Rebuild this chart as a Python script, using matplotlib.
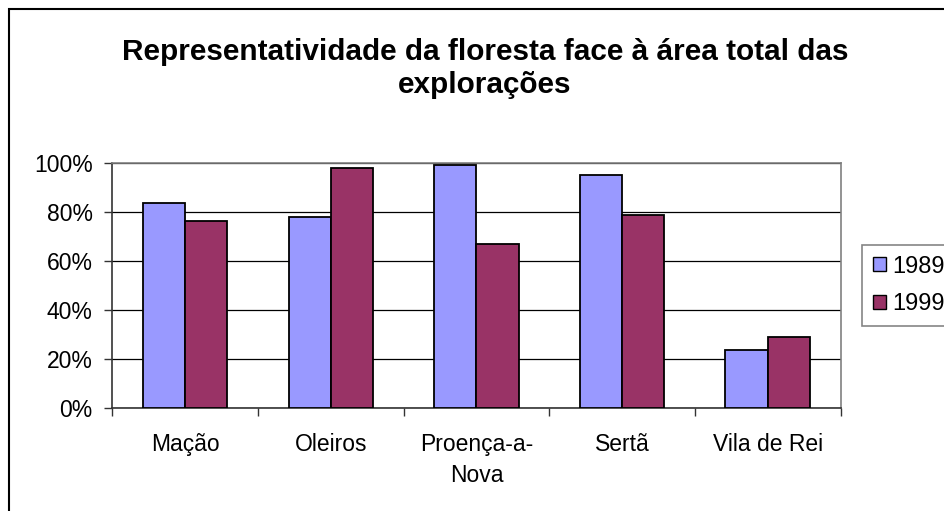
import matplotlib
matplotlib.use("Agg")
import matplotlib.pyplot as plt
import numpy as np
from matplotlib.patches import Rectangle
from matplotlib.ticker import PercentFormatter, FixedLocator

plt.rcParams["font.family"] = ["Liberation Sans", "DejaVu Sans"]

categories = ["Mação", "Oleiros", "Proença-a-\nNova", "Sertã", "Vila de Rei"]
values_1989 = [0.837, 0.781, 0.994, 0.951, 0.237]
values_1999 = [0.766, 0.982, 0.672, 0.788, 0.291]
series_labels = ["1989", "1999"]
colors = ["#9999FF", "#993366"]

fig = plt.figure(figsize=(9.44, 5.11), dpi=100)
ax = fig.add_axes([112.3 / 944, 1 - 408.3 / 511, 728.2 / 944, 245 / 511])

x = np.arange(len(categories))
w = 0.29
ax.bar(x - w / 2, values_1989, width=w, color=colors[0], edgecolor="black",
       linewidth=1.3, label=series_labels[0], zorder=3)
ax.bar(x + w / 2, values_1999, width=w, color=colors[1], edgecolor="black",
       linewidth=1.3, label=series_labels[1], zorder=3)

ax.set_xlim(-0.5, len(categories) - 0.5)
ax.set_ylim(0, 1)
ax.set_yticks(np.arange(0, 1.01, 0.2))
ax.yaxis.set_major_formatter(PercentFormatter(1.0, decimals=0))
ax.yaxis.grid(True, color="black", linewidth=0.9)

ax.set_xticks(x)
ax.set_xticklabels(categories, fontsize=16.5, linespacing=1.4)
ax.tick_params(axis="x", which="major", length=0, pad=18)
ax.xaxis.set_minor_locator(FixedLocator(np.arange(-0.5, len(categories), 1.0)))
ax.tick_params(axis="x", which="minor", length=6, width=1, color="#333333")
ax.tick_params(axis="y", length=6, width=1, color="#333333", labelsize=16.5, pad=8)

for side in ["top", "right"]:
    ax.spines[side].set_color("#808080")
    ax.spines[side].set_linewidth(1.2)
for side in ["left", "bottom"]:
    ax.spines[side].set_color("#333333")
    ax.spines[side].set_linewidth(1.2)

fig.text(485 / 944, 1 - 93 / 511,
         "Representatividade da floresta face à área total das\nexplorações",
         ha="center", va="baseline", fontsize=21.4, fontweight="bold",
         linespacing=1.25)

leg = fig.legend(loc="upper left", bbox_to_anchor=(862 / 944, 1 - 245 / 511),
                 fontsize=17, frameon=True, fancybox=False, handlelength=0.55,
                 handleheight=0.55, handletextpad=0.3, labelspacing=0.65,
                 borderpad=0.45, borderaxespad=0)
leg.get_frame().set_edgecolor("#666666")
leg.get_frame().set_linewidth(1.2)
for h in leg.legend_handles:
    h.set_linewidth(1.0)

fig.patches.append(Rectangle((9 / 944, -0.1), 1.2, 1 - 9 / 511 + 0.1,
                             transform=fig.transFigure, fill=False,
                             edgecolor="black", linewidth=1.5))

fig.savefig("out.png", dpi=100)
